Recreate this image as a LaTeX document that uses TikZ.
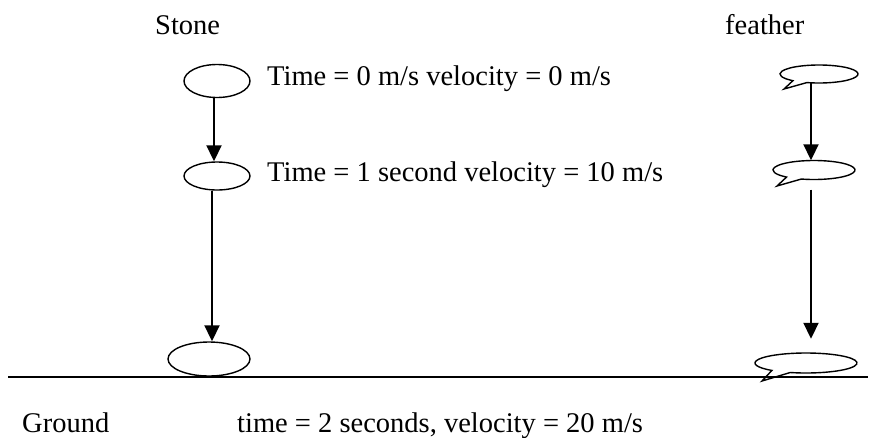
\documentclass[tikz,border=0pt]{standalone}
\usepackage{fontspec}
\setmainfont{Liberation Serif}
\usetikzlibrary{shapes.geometric,arrows.meta}
\begin{document}
\begin{tikzpicture}[x=1pt,y=-1pt,
  stoneball/.style={ellipse,draw,line width=1.4pt,inner sep=0pt},
  featherball/.style={ellipse,inner sep=0pt},
  bubbleline/.style={line width=1.4pt,line join=miter},
  lbl/.style={font=\fontsize{28.5}{32}\selectfont,inner sep=0pt,anchor=base west},
  fall/.style={line width=1.9pt,-{Triangle[width=15pt,length=16pt]}},
  groundline/.style={line width=1.4pt}]
\useasboundingbox (0,0) rectangle (871,437);

% labels
\node[lbl] (stone) at (155,34) {Stone};
\node[lbl] (feather) at (725,34) {feather};
\node[lbl] (t0) at (267,85) {Time = 0 m/s velocity = 0 m/s};
\node[lbl] (t1) at (267,181) {Time = 1 second velocity = 10 m/s};
\node[lbl] (ground) at (22,432) {Ground};
\node[lbl] (t2) at (237,432) {time = 2 seconds, velocity = 20 m/s};

% stone
\node[stoneball,minimum width=66pt,minimum height=33pt] (s1) at (217,81) {};
\node[stoneball,minimum width=66pt,minimum height=28pt] (s2) at (217,176) {};
\node[stoneball,minimum width=82pt,minimum height=34pt] (s3) at (209,359) {};
\coordinate (sx1) at (214,0);
\coordinate (sx2) at (212,0);
\draw[fall] (s1.south -| sx1) -- (s2.north -| sx1);
\draw[fall] (s2.south -| sx2) -- (s3.north -| sx2);

% feather
\node[featherball,minimum width=78pt,minimum height=18pt] (f1) at (819,74) {};
\draw[bubbleline] (f1.center) ++(252:39pt and 9pt)
  arc[start angle=252,end angle=588,x radius=39pt,y radius=9pt] -- (784,89) -- cycle;
\node[featherball,minimum width=82pt,minimum height=19pt] (f2) at (814,170) {};
\draw[bubbleline] (f2.center) ++(252:41pt and 9.5pt)
  arc[start angle=252,end angle=588,x radius=41pt,y radius=9.5pt] -- (777,186) -- cycle;
\node[featherball,minimum width=102pt,minimum height=20pt] (f3) at (806,363) {};
\draw[bubbleline] (f3.center) ++(252:51pt and 10pt)
  arc[start angle=252,end angle=588,x radius=51pt,y radius=10pt] -- (762,381) -- cycle;
\coordinate (fx) at (811,0);
\draw[fall] (f1.south -| fx) -- (f2.north -| fx);
\draw[fall,shorten <=10pt,shorten >=14pt] (f2.south -| fx) -- (f3.north -| fx);

% ground
\coordinate (g1) at (8,377);
\coordinate (g2) at (868,377);
\draw[groundline] (g1) -- (g2);
\end{tikzpicture}
\end{document}
